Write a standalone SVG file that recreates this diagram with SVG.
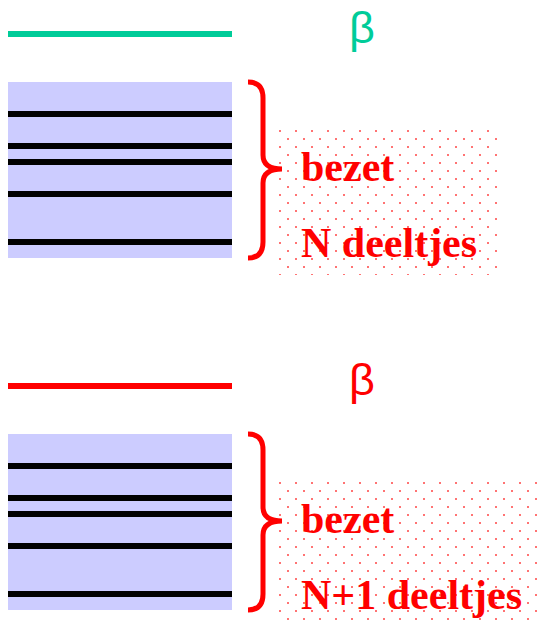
<svg xmlns="http://www.w3.org/2000/svg" width="540" height="623" viewBox="0 0 540 623">
  <style>
    .band { fill: #ccccff; }
    .lvl { stroke: #000000; stroke-width: 6; }
    .brace { fill: none; stroke: #ff0000; stroke-width: 5; stroke-linecap: butt; stroke-linejoin: miter; }
    .lbl { font-family: "Liberation Serif", "Times New Roman", serif; font-weight: bold; font-size: 42px; fill: #ff0000; }
    .beta { font-family: "Liberation Sans", "DejaVu Sans", sans-serif; font-size: 45px; text-anchor: middle; }
  </style>
  <defs>
    <pattern id="dots" x="280" y="131" width="16" height="16" patternUnits="userSpaceOnUse">
      <rect x="-1" y="-1" width="2" height="2" fill="#ff0000" opacity="0.55"/>
      <rect x="15" y="-1" width="2" height="2" fill="#ff0000" opacity="0.55"/>
      <rect x="-1" y="15" width="2" height="2" fill="#ff0000" opacity="0.55"/>
      <rect x="15" y="15" width="2" height="2" fill="#ff0000" opacity="0.55"/>
      <rect x="7" y="7" width="2" height="2" fill="#ff0000" opacity="0.55"/>
    </pattern>
  </defs>

  <g id="top-panel">
    <g id="top-dots"><rect x="279" y="130" width="221" height="145" fill="url(#dots)"/></g>
    <g id="top-beta-level">
      <line x1="8" y1="34" x2="232" y2="34" stroke="#00cc99" stroke-width="6"/>
      <text class="beta" x="362" y="43" fill="#00cc99">β</text>
    </g>
    <g id="top-band">
      <rect class="band" x="8" y="82" width="224" height="176"/>
      <line class="lvl" x1="8" y1="114" x2="232" y2="114"/>
      <line class="lvl" x1="8" y1="146" x2="232" y2="146"/>
      <line class="lvl" x1="8" y1="162" x2="232" y2="162"/>
      <line class="lvl" x1="8" y1="194" x2="232" y2="194"/>
      <line class="lvl" x1="8" y1="242" x2="232" y2="242"/>
    </g>
    <g id="top-brace">
      <path class="brace" d="M248 82 Q263 82 263 98 L263 155 Q263 169 282 169 Q263 169 263 183 L263 242 Q263 258 248 258"/>
    </g>
    <g id="top-label">
      <text class="lbl" x="301" y="181">bezet</text>
      <text class="lbl" x="301" y="257">N deeltjes</text>
    </g>
  </g>

  <g id="bottom-panel">
    <g id="bottom-dots"><rect x="279" y="482" width="261" height="141" fill="url(#dots)"/></g>
    <g id="bottom-beta-level">
      <line x1="8" y1="386" x2="232" y2="386" stroke="#ff0000" stroke-width="6"/>
      <text class="beta" x="362" y="395" fill="#ff0000">β</text>
    </g>
    <g id="bottom-band">
      <rect class="band" x="8" y="434" width="224" height="176"/>
      <line class="lvl" x1="8" y1="466" x2="232" y2="466"/>
      <line class="lvl" x1="8" y1="498" x2="232" y2="498"/>
      <line class="lvl" x1="8" y1="514" x2="232" y2="514"/>
      <line class="lvl" x1="8" y1="546" x2="232" y2="546"/>
      <line class="lvl" x1="8" y1="594" x2="232" y2="594"/>
    </g>
    <g id="bottom-brace">
      <path class="brace" d="M248 434 Q263 434 263 450 L263 507 Q263 521 282 521 Q263 521 263 535 L263 594 Q263 610 248 610"/>
    </g>
    <g id="bottom-label">
      <text class="lbl" x="301" y="533">bezet</text>
      <text class="lbl" x="301" y="609">N+1 deeltjes</text>
    </g>
  </g>
</svg>
